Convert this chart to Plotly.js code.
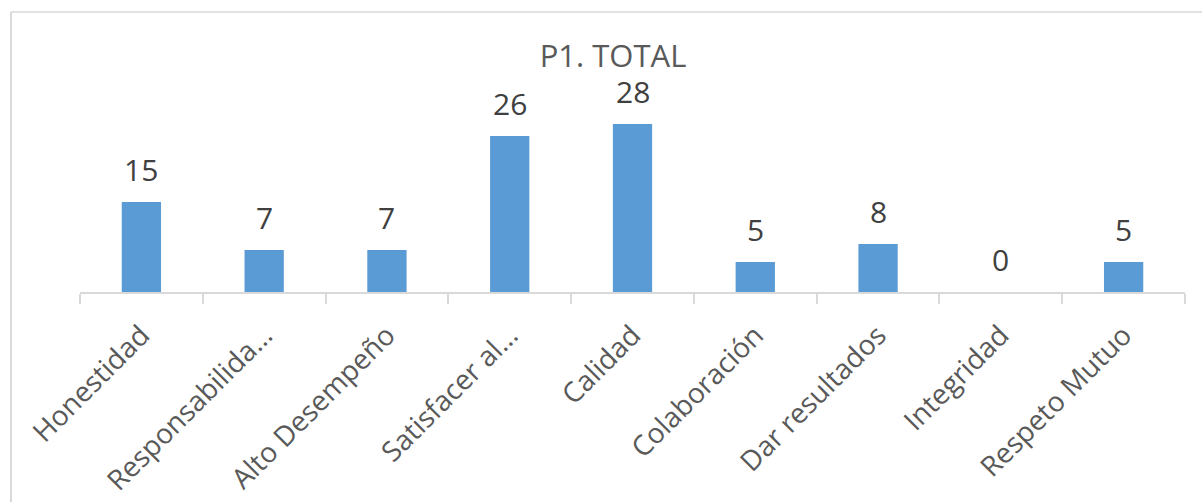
<!DOCTYPE html>
<html>
<head>
<meta charset="utf-8">
<script src="https://cdn.plot.ly/plotly-3.0.1.min.js"></script>
<style>
html,body{margin:0;padding:0;background:#fff;}
#chart{width:1202px;height:502px;}
</style>
</head>
<body>
<div id="chart"></div>
<script>
const categories = ["Honestidad", "Responsabilida…", "Alto Desempeño", "Satisfacer al…", "Calidad", "Colaboración", "Dar resultados", "Integridad", "Respeto Mutuo"];
const values = [15, 7, 7, 26, 28, 5, 8, 0, 5];
const chartTitle = "P1. TOTAL";

const FONT = "Open Sans, Noto Sans, sans-serif";

const trace = {
  type: "bar",
  x: categories,
  y: values,
  marker: {color: "#5B9BD5"},
  hoverinfo: "x+y",
  cliponaxis: false
};

const annotations = categories.map((c, i) => ({
  x: c, y: values[i], xref: "x", yref: "y",
  text: String(values[i]),
  showarrow: false,
  yanchor: "bottom",
  yshift: 10,
  font: {family: FONT, size: 30, color: "#404040"}
}));

const layout = {
  width: 1202, height: 502,
  margin: {l: 80, r: 17, t: 112, b: 210},
  paper_bgcolor: "#ffffff",
  plot_bgcolor: "#ffffff",
  showlegend: false,
  bargap: 0.68,
  title: {
    text: chartTitle,
    x: 0.51, xref: "container", xanchor: "center",
    y: 0.888, yref: "container", yanchor: "middle",
    font: {family: FONT, size: 31, color: "#595959"}
  },
  xaxis: {
    type: "category",
    showline: true, linecolor: "#d9d9d9", linewidth: 1.5,
    ticks: "outside", tickson: "boundaries", ticklen: 10, tickwidth: 1.5, tickcolor: "#d9d9d9",
    tickangle: -45,
    ticklabelstandoff: 14,
    tickfont: {family: FONT, size: 28, color: "#595959"},
    showgrid: false, zeroline: false, fixedrange: true
  },
  yaxis: {
    range: [0, 30],
    visible: false,
    showgrid: false, zeroline: false, fixedrange: true
  },
  annotations: annotations,
  shapes: [
    {type: "line", xref: "paper", yref: "paper",
     x0: (11 - 80) / 1105, x1: (11 - 80) / 1105, y0: (292 - 12) / 180, y1: (292 - 502) / 180,
     line: {color: "#d9d9d9", width: 2}},
    {type: "line", xref: "paper", yref: "paper",
     x0: (11 - 80) / 1105, x1: (1202 - 80) / 1105, y0: (292 - 12) / 180, y1: (292 - 12) / 180,
     line: {color: "#d9d9d9", width: 1.5}}
  ]
};

Plotly.newPlot("chart", [trace], layout, {displayModeBar: false, staticPlot: false});
</script>
</body>
</html>
